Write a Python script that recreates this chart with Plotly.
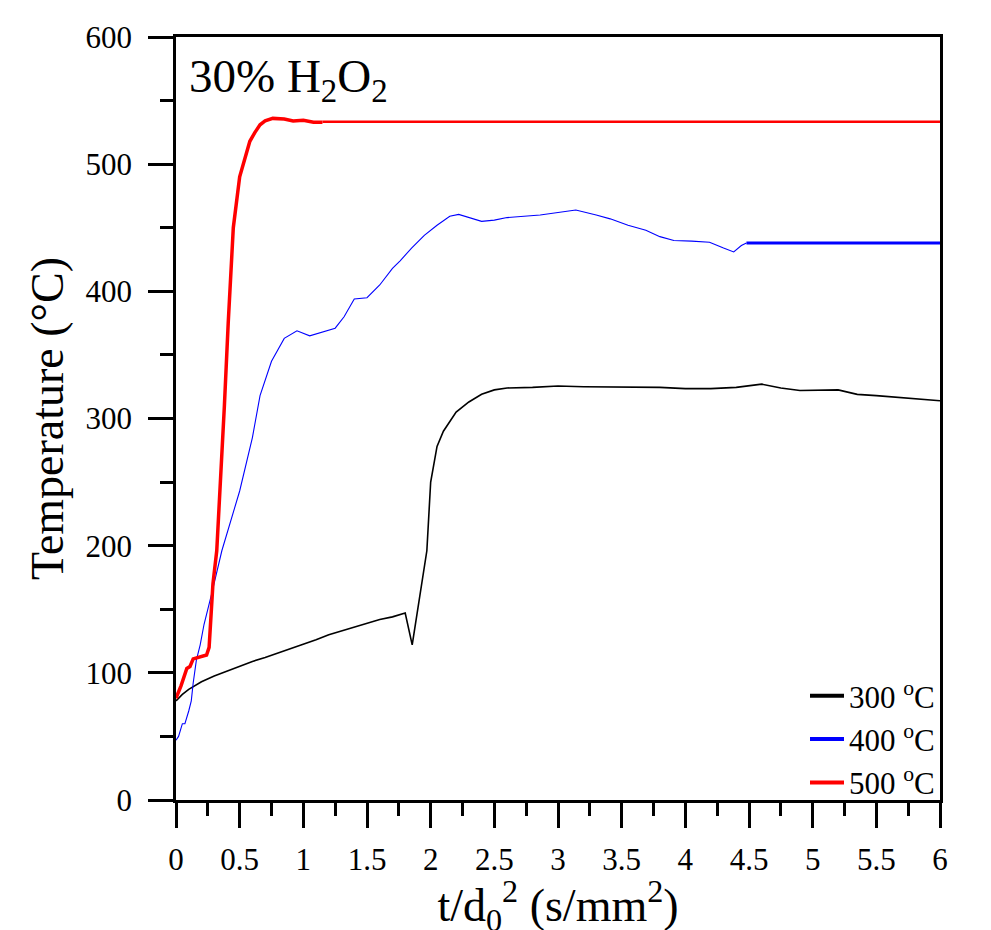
import plotly.graph_objects as go

# ---- data ----
x300 = [0, 0.05, 0.1, 0.2, 0.3, 0.4, 0.5, 0.6, 0.7, 0.8, 0.9, 1.0, 1.1, 1.2, 1.3, 1.4, 1.5, 1.6, 1.7, 1.8,
        1.855, 1.9, 1.95, 1.97, 2.0, 2.05, 2.1, 2.15, 2.2, 2.3, 2.4, 2.5, 2.6, 2.8, 3.0, 3.2, 3.5, 3.8, 4.0,
        4.2, 4.4, 4.6, 4.75, 4.9, 5.2, 5.35, 5.5, 5.75, 6.0]
y300 = [78, 83, 87, 93, 97.5, 101.5, 105, 109, 112, 115.5, 119, 122, 126, 130, 133, 136, 139, 142, 144, 147,
        122, 150, 180, 196, 250, 278, 290, 298, 305, 313, 319, 322.5, 324, 324.5, 325.5, 325, 325, 324.5, 323.5,
        323.5, 324.5, 327, 324, 322, 322.5, 319, 318, 316, 314]

x400 = [0, 0.02, 0.05, 0.07, 0.1, 0.12, 0.135, 0.16, 0.19, 0.22, 0.28, 0.36, 0.5, 0.6, 0.66, 0.75, 0.85, 0.95,
        1.05, 1.15, 1.25, 1.32, 1.4, 1.5, 1.6, 1.7, 1.76, 1.85, 1.95, 2.05, 2.15, 2.22, 2.3, 2.4, 2.5, 2.6, 2.86,
        3.0, 3.14, 3.3, 3.41, 3.55, 3.69, 3.8, 3.91, 4.05, 4.19, 4.3, 4.38, 4.44, 4.48]
y400 = [47, 50, 60, 60, 70, 78, 92, 110, 122, 138, 162, 196, 243, 285, 318, 345, 363, 369,
        365, 368, 371, 380, 394, 395, 405, 418, 424, 434, 444, 452, 459, 460.5, 458, 455, 456, 458, 460,
        462, 464, 460, 457, 452, 448, 443, 440, 439.5, 438.6, 434, 431, 436, 438]
x400_flat = [4.48, 6.0]
y400_flat = [438, 438]

x500 = [0, 0.04, 0.085, 0.11, 0.135, 0.2, 0.24, 0.26, 0.29, 0.32, 0.35, 0.38, 0.41, 0.45, 0.5, 0.54, 0.58,
        0.62, 0.66, 0.7, 0.76, 0.85, 0.92, 1.0, 1.08, 1.15]
y500 = [80, 90, 103.5, 105, 111, 113, 114, 120, 170, 196, 250, 310, 375, 450, 490, 505, 518,
        525, 531, 534, 536, 535.5, 534, 534.5, 533, 533]
x500_flat = [1.15, 6.0]
y500_flat = [533.3, 533.3]

legend_names = ["300 <sup>o</sup>C", "400 <sup>o</sup>C", "500 <sup>o</sup>C"]
colors = ["#000000", "#0000ff", "#ff0000"]

FONT = "Liberation Serif"

fig = go.Figure()
fig.add_trace(go.Scatter(x=x300, y=y300, mode="lines", line=dict(color=colors[0], width=1.6), showlegend=False))
fig.add_trace(go.Scatter(x=x400, y=y400, mode="lines", line=dict(color=colors[1], width=1.1), showlegend=False))
fig.add_trace(go.Scatter(x=x400_flat, y=y400_flat, mode="lines", line=dict(color=colors[1], width=3), showlegend=False))
fig.add_trace(go.Scatter(x=x500, y=y500, mode="lines", line=dict(color=colors[2], width=3.5), showlegend=False))
fig.add_trace(go.Scatter(x=x500_flat, y=y500_flat, mode="lines", line=dict(color=colors[2], width=2.4), showlegend=False))
for name, c in zip(legend_names, colors):
    fig.add_trace(go.Scatter(x=[None], y=[None], mode="lines", name=name, line=dict(color=c, width=4)))

fig.update_layout(
    width=991, height=930,
    margin=dict(l=168, r=59, t=27, b=138),
    paper_bgcolor="white", plot_bgcolor="white",
    font=dict(family=FONT, color="black"),
    showlegend=True,
    legend=dict(x=1, xanchor="right", y=-0.012, yanchor="bottom", bgcolor="rgba(0,0,0,0)",
                font=dict(size=31, family=FONT), itemwidth=34, tracegroupgap=0,
                traceorder="normal"),
    annotations=[dict(text="30% H<sub>2</sub>O<sub>2</sub>", xref="paper", yref="paper",
                      x=0.015, y=0.985, xanchor="left", yanchor="top", showarrow=False,
                      font=dict(size=47, family=FONT))],
)
fig.update_xaxes(
    range=[0, 6], dtick=0.5, tick0=0, ticks="outside", ticklen=25, tickwidth=2.5, tickcolor="black",
    minor=dict(dtick=0.25, ticklen=13, tickwidth=2.5, tickcolor="black", ticks="outside"),
    showline=True, linewidth=2.5, linecolor="black", mirror=True, showgrid=False, zeroline=False,
    tickfont=dict(size=31, family=FONT), ticklabelstandoff=5,
    title=dict(text="t/d<sub>0</sub><sup>2</sup> (s/mm<sup>2</sup>)", font=dict(size=46, family=FONT), standoff=4),
)
fig.update_yaxes(
    range=[0, 600], dtick=100, tick0=0, ticks="outside", ticklen=25, tickwidth=2.5, tickcolor="black",
    minor=dict(dtick=50, ticklen=13, tickwidth=2.5, tickcolor="black", ticks="outside"),
    showline=True, linewidth=2.5, linecolor="black", mirror=True, showgrid=False, zeroline=False,
    tickfont=dict(size=31, family=FONT), ticklabelstandoff=10,
    title=dict(text="Temperature (°C)", font=dict(size=46, family=FONT), standoff=8),
)

fig.write_html("out.html")
